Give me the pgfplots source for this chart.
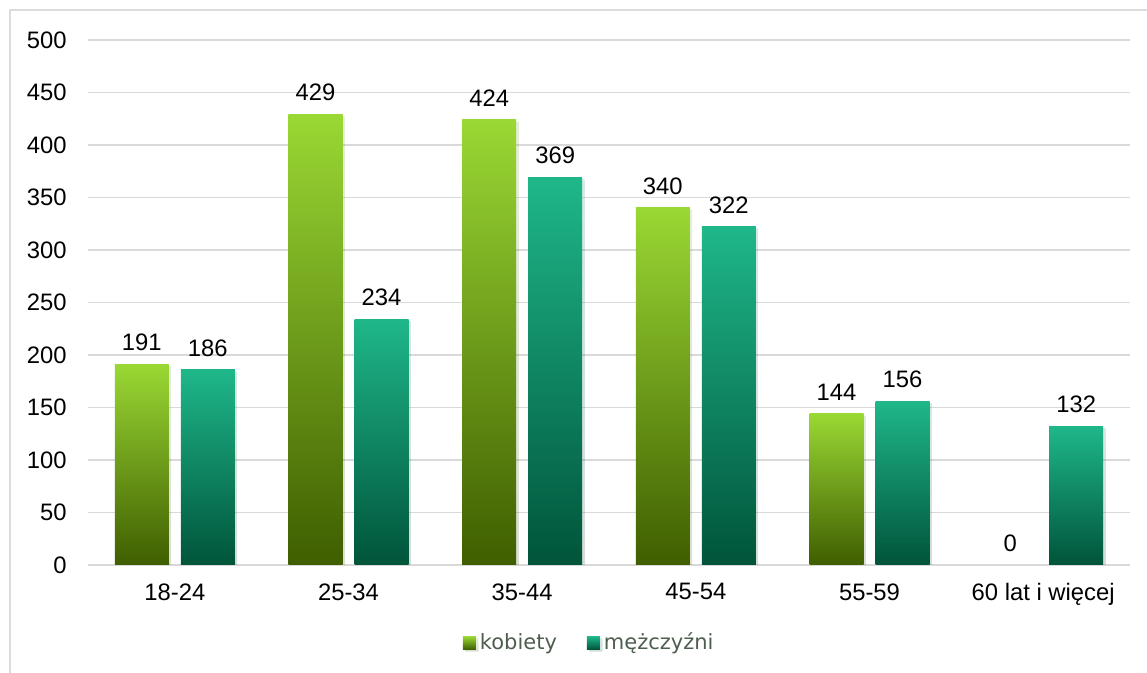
\documentclass[border=0pt]{standalone}
\usepackage{fontspec}
\setmainfont{Liberation Sans}
\newfontfamily\legfont{DejaVu Sans}
\usepackage{pgfplots}
\pgfplotsset{compat=1.18}
\usetikzlibrary{shadows}
\definecolor{kTop}{HTML}{9AD834}
\definecolor{kMid}{HTML}{6EA500}
\definecolor{kBot}{HTML}{3F5E00}
\definecolor{mTop}{HTML}{1FB78A}
\definecolor{mMid}{HTML}{00936A}
\definecolor{mBot}{HTML}{00543A}
\definecolor{gridc}{HTML}{D9D9D9}
\definecolor{framec}{HTML}{D9DEDC}
\definecolor{legtext}{HTML}{4E5E4E}
\pgfplotsset{
  kbar/.style={ybar, bar width=27pt, bar shift=-16.5pt, draw=none,
    top color=kTop, middle color=kMid, bottom color=kBot,
    drop shadow={shadow xshift=1.2pt, shadow yshift=-1pt, opacity=0.12},
    every node near coord/.append style={xshift=-16.5pt},
    legend image code/.code={\path[draw=none, top color=kTop, middle color=kMid, bottom color=kBot] (0pt,-3.2pt) rectangle (6.5pt,3.3pt);}},
  mbar/.style={ybar, bar width=27pt, bar shift=16.5pt, draw=none,
    top color=mTop, middle color=mMid, bottom color=mBot,
    drop shadow={shadow xshift=1.2pt, shadow yshift=-1pt, opacity=0.12},
    every node near coord/.append style={xshift=16.5pt},
    legend image code/.code={\path[draw=none, top color=mTop, middle color=mMid, bottom color=mBot] (0pt,-3.2pt) rectangle (6.5pt,3.3pt);}},
}
\begin{document}
\begin{tikzpicture}[x=1pt,y=1pt]
\path[use as bounding box] (0,0) rectangle (573.5,336.5);
\draw[framec, line width=0.7pt] (5,-5) -- (5,331.5) -- (590,331.5);
\begin{axis}[
  at={(44pt,54pt)}, anchor=south west,
  scale only axis, width=521pt, height=262.5pt,
  xmin=-0.5, xmax=5.5, ymin=0, ymax=500,
  xtick={0,1,2,3,4,5},
  xticklabels={18-24,25-34,35-44,45-54,55-59,60 lat i więcej},
  ytick={0,50,...,500},
  axis line style={draw=none},
  major tick length=0pt,
  ymajorgrids, grid style={gridc, line width=0.8pt},
  tick label style={font=\fontsize{11.9}{14}\selectfont, text=black},
  /pgf/number format/assume math mode=true,
  yticklabel style={inner sep=0pt, xshift=-10.5pt},
  xticklabel style={inner sep=0pt, yshift=-9pt},
  nodes near coords,
  every node near coord/.append style={font=\fontsize{11.9}{14}\selectfont, text=black, inner sep=0pt, yshift=6.5pt, anchor=south},
  legend columns=2,
  legend style={at={(0.482,-0.1486)}, anchor=center, draw=none, fill=none,
    font=\legfont\fontsize{10.5}{12}\selectfont, text=legtext,
    /tikz/every even column/.append style={column sep=13pt}},
]
% kobiety
\addplot[kbar] coordinates {(0,191)};
\addlegendentry{kobiety}
% mężczyźni
\addplot[mbar] coordinates {(0,186)};
\addlegendentry{mężczyźni}
\addplot[kbar, forget plot] coordinates {(1,429)};
\addplot[kbar, forget plot] coordinates {(2,424)};
\addplot[kbar, forget plot] coordinates {(3,340)};
\addplot[kbar, forget plot] coordinates {(4,144)};
\addplot[kbar, forget plot, drop shadow={opacity=0}] coordinates {(5,0)};
\addplot[mbar, forget plot] coordinates {(1,234)};
\addplot[mbar, forget plot] coordinates {(2,369)};
\addplot[mbar, forget plot] coordinates {(3,322)};
\addplot[mbar, forget plot] coordinates {(4,156)};
\addplot[mbar, forget plot] coordinates {(5,132)};
\end{axis}
\end{tikzpicture}
\end{document}
